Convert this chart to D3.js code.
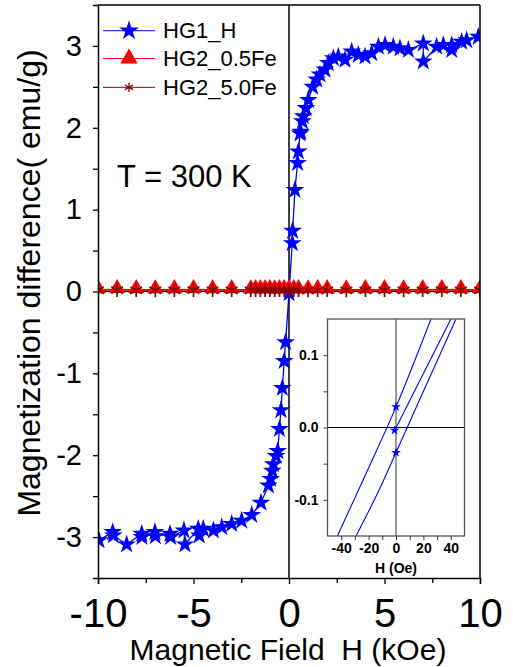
<!DOCTYPE html>
<html><head><meta charset="utf-8">
<script src="https://cdn.jsdelivr.net/npm/d3@7"></script>
<style>body{margin:0;background:#fff}svg{display:block}text{font-family:"Liberation Sans",Arial,sans-serif;white-space:pre}</style>
</head><body><svg id="c" width="513" height="667"></svg>
<script>
// ---- data ----
const hg1H = [-9.95,-9.23,-9.2,-8.5,-7.71,-7.7,-7.02,-7.0,-6.23,-6.2,-5.5,-5.45,-4.75,-4.7,-4.49,-3.96,-3.52,-3.0,-2.48,-1.95,-1.47,-1.08,-0.96,-0.87,-0.82,-0.68,-0.59,-0.5,-0.42,-0.35,-0.25,-0.18,0,0.17,0.19,0.31,0.45,0.49,0.58,0.61,0.7,0.75,0.89,1.01,1.24,1.45,1.62,1.88,2.06,2.32,2.58,2.93,3.28,3.63,3.98,4.33,4.68,5.03,5.46,5.81,6.25,7.03,7.03,7.73,8.08,8.52,8.52,9.04,9.3,9.91];
const hg1M = [-3.04,-2.94,-2.98,-3.09,-2.96,-3.0,-2.94,-2.99,-2.96,-3.0,-2.92,-3.09,-2.9,-2.98,-2.9,-2.92,-2.88,-2.84,-2.8,-2.73,-2.58,-2.37,-2.29,-2.19,-2.11,-2.01,-1.95,-1.68,-1.45,-1.18,-0.85,-0.62,-0.02,0.59,0.74,1.24,1.57,1.71,1.93,1.95,2.08,2.14,2.24,2.34,2.5,2.59,2.65,2.71,2.79,2.85,2.87,2.83,2.93,2.89,2.87,2.91,2.99,3.01,2.99,2.97,2.95,3.03,2.81,2.99,3.01,3.01,2.95,3.05,3.07,3.11];
const hg2H = [-10,-9,-8,-7,-6,-5,-4,-3,-2,-1.75,-1.5,-1.25,-1,-0.75,-0.5,-0.25,0,0.25,0.5,1,1.5,2,3,4,5,6,7,8,9,10];
const hg2a = [0.025,0.026,0.025,0.024,0.025,0.026,0.025,0.025,0.024,0.025,0.026,0.025,0.025,0.024,0.025,0.025,0.026,0.025,0.025,0.024,0.025,0.025,0.024,0.025,0.025,0.024,0.025,0.026,0.025,0.025];
const hg2b = [0.015,0.016,0.015,0.014,0.015,0.016,0.015,0.015,0.014,0.015,0.016,0.015,0.015,0.014,0.015,0.015,0.016,0.015,0.015,0.014,0.015,0.015,0.014,0.015,0.015,0.014,0.015,0.016,0.015,0.015];
// inset (Oe, emu/g)
const insVirginH = [-1, 40.1];
const insVirginM = [-0.004, 0.15];
const insDescH = [-42.8, -20, 0, 25.5];
const insDescM = [-0.15, -0.056, 0.0285, 0.15];
const insAscH = [-29.2, -12, 0, 20, 43.8];
const insAscM = [-0.15, -0.085, -0.0346, 0.05, 0.15];
const insStarH = [0, -1, 0];
const insStarM = [0.0285, -0.004, -0.0346];
const xTicks = [-10,-5,0,5,10], xMinor = [-7.5,-2.5,2.5,7.5];
const yTicks = [-3,-2,-1,0,1,2,3], yMinor = [-2.5,-1.5,-0.5,0.5,1.5,2.5];
const legendNames = ["HG1_H","HG2_0.5Fe","HG2_5.0Fe"];

const svg = d3.select("#c");
const x = d3.scaleLinear([-10,10],[98,480]);
const y = d3.scaleLinear([-3.5,3.5],[578,5]);
const L=98,R=480,T=5,B=578;

svg.append("clipPath").attr("id","pc").append("rect").attr("x",L).attr("y",T).attr("width",R-L).attr("height",B-T);

// zero lines
svg.append("line").attr("x1",x(0)).attr("x2",x(0)).attr("y1",T).attr("y2",B).attr("stroke","#000").attr("stroke-width",1.5);
svg.append("line").attr("x1",L).attr("x2",R).attr("y1",y(0)).attr("y2",y(0)).attr("stroke","#000").attr("stroke-width",1.2);

const g = svg.append("g").attr("clip-path","url(#pc)");
const line = d3.line().x(d=>x(d[0])).y(d=>y(d[1]));
const d1 = hg1H.map((h,i)=>[h,hg1M[i]]);
const d2 = hg2H.map((h,i)=>[h,hg2a[i]]);
const d3b = hg2H.map((h,i)=>[h,hg2b[i]]);
const star = d3.symbol().type(d3.symbolStar).size(110);
const tri = d3.symbol().type(d3.symbolTriangle).size(115);
const ast = d3.symbol().type(d3.symbolAsterisk).size(130);

g.append("path").attr("d",line(d1)).attr("fill","none").attr("stroke","#0000ff").attr("stroke-width",1.3);
g.selectAll(".s1").data(d1).join("path").attr("d",star).attr("transform",d=>`translate(${x(d[0])},${y(d[1])})`).attr("fill","#0000ff");
g.append("path").attr("d",line(d2)).attr("fill","none").attr("stroke","#ff0000").attr("stroke-width",1);
g.append("path").attr("d",line(d3b)).attr("fill","none").attr("stroke","#8b0000").attr("stroke-width",1);
g.selectAll(".s2").data(d2).join("path").attr("d",tri).attr("transform",d=>`translate(${x(d[0])},${y(d[1])-1})`).attr("fill","#ff0000");
g.selectAll(".s3").data(d3b).join("path").attr("d",ast).attr("transform",d=>`translate(${x(d[0])},${y(d[1])})`).attr("fill","none").attr("stroke","#8b0000").attr("stroke-width",1.7);

// axes
const fmt = d=>String(d);
const ax = svg.append("g").attr("transform",`translate(0,${B})`).call(d3.axisBottom(x).tickValues(xTicks).tickSize(6).tickPadding(15).tickFormat(fmt));
ax.selectAll("text").attr("font-size",40).attr("font-family","Liberation Sans, Arial").attr("fill","#000");
svg.append("g").attr("transform",`translate(0,${B})`).call(d3.axisBottom(x).tickValues(xMinor).tickSize(5).tickFormat("")).select(".domain").remove();
const ay = svg.append("g").attr("transform",`translate(${L},0)`).call(d3.axisLeft(y).tickValues(yTicks).tickSize(5).tickPadding(11).tickFormat(fmt));
ay.selectAll("text").attr("font-size",29).attr("font-family","Liberation Sans, Arial").attr("fill","#000");
svg.append("g").attr("transform",`translate(${L},0)`).call(d3.axisLeft(y).tickValues(yMinor).tickSize(5).tickFormat("")).select(".domain").remove();
svg.selectAll(".domain").attr("stroke-width",1.5);
svg.selectAll(".tick line").attr("stroke-width",1.3);
svg.append("line").attr("x1",L).attr("x2",R).attr("y1",T).attr("y2",T).attr("stroke","#000").attr("stroke-width",1.5);
svg.append("line").attr("x1",R).attr("x2",R).attr("y1",T).attr("y2",B).attr("stroke","#000").attr("stroke-width",1.5);

// axis titles
svg.append("text").attr("x",288).attr("y",660).attr("text-anchor","middle").attr("font-size",30).text("Magnetic Field  H (kOe)");
svg.append("text").attr("transform","translate(40,283) rotate(-90)").attr("text-anchor","middle").attr("font-size",32).text("Magnetization difference( emu/g)");
svg.append("text").attr("x",117).attr("y",187).attr("font-size",31).text("T = 300 K");

// legend
const lg = svg.append("g");
const ly = [30.7,58.5,87.3];
const lcol = ["#0000ff","#ff0000","#8b0000"];
legendNames.forEach((n,i)=>{
  lg.append("line").attr("x1",103).attr("x2",155).attr("y1",ly[i]).attr("y2",ly[i]).attr("stroke",lcol[i]).attr("stroke-width",1);
  const m = lg.append("path").attr("transform",`translate(129,${ly[i]})`);
  if(i===0) m.attr("d",d3.symbol().type(d3.symbolStar).size(120)).attr("fill",lcol[0]);
  if(i===1) m.attr("d",d3.symbol().type(d3.symbolTriangle).size(130)).attr("fill",lcol[1]);
  if(i===2) m.attr("d",d3.symbol().type(d3.symbolAsterisk).size(60)).attr("fill","none").attr("stroke",lcol[2]).attr("stroke-width",1.3);
  lg.append("text").attr("x",163).attr("y",ly[i]+7.5).attr("font-size",22).text(n);
});

// inset
const ix = d3.scaleLinear([-50,50],[327.5,464.5]);
const iy = d3.scaleLinear([-0.15,0.15],[536,319]);
const IL=327.5,IR=464.5,IT=319,IB=536;
svg.append("clipPath").attr("id","ic").append("rect").attr("x",IL).attr("y",IT).attr("width",IR-IL).attr("height",IB-IT);
svg.append("rect").attr("x",IL).attr("y",IT).attr("width",IR-IL).attr("height",IB-IT).attr("fill","#fff");
svg.append("line").attr("x1",ix(0)).attr("x2",ix(0)).attr("y1",IT).attr("y2",IB).attr("stroke","#555").attr("stroke-width",1.2);
svg.append("line").attr("x1",IL).attr("x2",IR).attr("y1",iy(0)).attr("y2",iy(0)).attr("stroke","#000").attr("stroke-width",1.2);
const ig = svg.append("g").attr("clip-path","url(#ic)");
const il = d3.line().x(d=>ix(d[0])).y(d=>iy(d[1])).curve(d3.curveMonotoneX);
[[insVirginH,insVirginM],[insDescH,insDescM],[insAscH,insAscM]].forEach(([hs,ms])=>{
  ig.append("path").attr("d",il(hs.map((h,i)=>[h,ms[i]]))).attr("fill","none").attr("stroke","#0000ff").attr("stroke-width",1.1);
});
ig.selectAll(".is").data(insStarH.map((h,i)=>[h,insStarM[i]])).join("path").attr("d",d3.symbol().type(d3.symbolStar).size(30)).attr("transform",d=>`translate(${ix(d[0])},${iy(d[1])})`).attr("fill","#0000ff");
svg.append("rect").attr("x",IL).attr("y",IT).attr("width",IR-IL).attr("height",IB-IT).attr("fill","none").attr("stroke","#555").attr("stroke-width",1.3);
const iax = svg.append("g").attr("transform",`translate(0,${IB})`).call(d3.axisBottom(ix).tickValues([-40,-30,-20,-10,0,10,20,30,40]).tickSize(4).tickPadding(3).tickFormat(d=>d%20===0?String(d):""));
const iay = svg.append("g").attr("transform",`translate(${IL},0)`).call(d3.axisLeft(iy).tickValues([-0.1,-0.05,0,0.05,0.1]).tickSize(4).tickPadding(5).tickFormat(d=>Math.abs(d*10-Math.round(d*10))<1e-9?d3.format(".1f")(d).replace("−","-"):""));
[iax,iay].forEach(a=>{a.select(".domain").remove();a.selectAll(".tick line").attr("stroke","#333");a.selectAll("text").attr("font-size",14).attr("font-weight","bold").attr("font-family","Liberation Sans, Arial").attr("fill","#000");});
svg.append("text").attr("x",396).attr("y",573).attr("text-anchor","middle").attr("font-size",14).attr("font-weight","bold").text("H (Oe)");
</script></body></html>
